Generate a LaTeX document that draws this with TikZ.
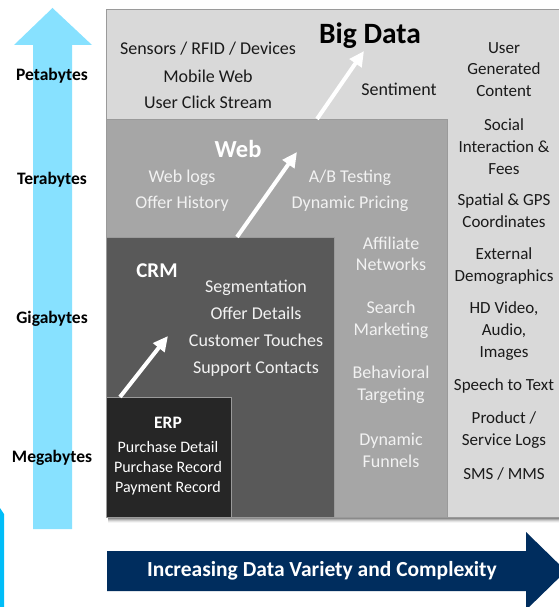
\documentclass[tikz,border=0pt]{standalone}
\usepackage{fontspec}
\setmainfont{Carlito}
\usetikzlibrary{arrows.meta}
\definecolor{bdlight}{HTML}{D9D9D9}
\definecolor{bdborder}{HTML}{9A9A9A}
\definecolor{webgray}{HTML}{A6A6A6}
\definecolor{crmgray}{HTML}{595959}
\definecolor{erpgray}{HTML}{262626}
\definecolor{skyarrow}{HTML}{87E1FF}
\definecolor{brightblue}{HTML}{00BDF8}
\definecolor{navy}{HTML}{002D5E}
\definecolor{paletext}{HTML}{F2F2F2}
\definecolor{darktext}{HTML}{1A1A1A}
\tikzset{
  lbl/.style={font=\fontsize{18}{20}\selectfont, text=darktext, align=center, inner sep=0pt},
  lblw/.style={font=\fontsize{18}{21.5}\selectfont, text=paletext, align=center, inner sep=0pt},
  lblwide/.style={font=\fontsize{18}{26}\selectfont, text=paletext, align=center, inner sep=0pt},
  lblr/.style={font=\fontsize{17}{21.7}\selectfont, text=darktext, align=center, inner sep=0pt},
  lble/.style={font=\fontsize{16}{20}\selectfont, text=white, align=center, inner sep=0pt},
  sizelbl/.style={font=\bfseries\fontsize{17.5}{19}\selectfont, text=black, inner sep=0pt},
  growarrow/.style={white, line width=4pt, -{Triangle[length=15pt,width=14pt]}},
  region/.style={draw=bdborder, line width=0.6pt}
}
\begin{document}
\begin{tikzpicture}[x=1pt,y=-1pt]
\useasboundingbox (0,0) rectangle (558,607);
\fill[white] (0,0) rectangle (558,607);
% vertical scale arrow
\fill[skyarrow] (33,529) -- (33,45) -- (14,45) -- (52.5,8) -- (92,45) -- (72,45) -- (72,529) -- cycle;
\fill[brightblue] (0,508) -- (4,514) -- (4,607) -- (0,607) -- cycle;
\node[sizelbl] (peta) at (52,76) {Petabytes};
\node[sizelbl] (tera) at (52,180) {Terabytes};
\node[sizelbl] (giga) at (52,319) {Gigabytes};
\node[sizelbl] (mega) at (52,458) {Megabytes};
% shadow
\foreach \o/\a in {1/0.25,2/0.2,3/0.15,4/0.1,5/0.07,6/0.04}{
  \fill[black, opacity=\a] (108,517) rectangle (560,517+\o);
}
% regions
\node[region, fill=bdlight, minimum width=454pt, minimum height=508pt, inner sep=0pt, anchor=north west] (bigdata) at (106,9) {};
\node[region, fill=webgray, minimum width=341pt, minimum height=398pt, inner sep=0pt, anchor=north west] (web) at (106,119) {};
\node[region, fill=crmgray, minimum width=228pt, minimum height=280pt, inner sep=0pt, anchor=north west] (crm) at (106,237) {};
\node[region, fill=erpgray, minimum width=125pt, minimum height=120pt, inner sep=0pt, anchor=north west] (erp) at (106,397) {};
% Big Data texts
\node[font=\bfseries\fontsize{29.5}{32}\selectfont, text=black, inner sep=0pt] (bdtitle) at (370,36) {Big Data};
\node[lbl] (sensors) at (208,49) {Sensors / RFID / Devices};
\node[lbl] (mobile) at (208,76) {Mobile Web};
\node[lbl] (click) at (208,102) {User Click Stream};
\node[lbl] (sentiment) at (399,89) {Sentiment};
\node[lblr] (ugc) at (504,69.5) {User\\Generated\\Content};
\node[lblr] (social) at (504,146.5) {Social\\Interaction \&\\Fees};
\node[lblr] (spatial) at (504,211) {Spatial \& GPS\\Coordinates};
\node[lblr] (external) at (504,266) {External\\Demographics};
\node[lblr] (hd) at (504,331) {HD Video,\\Audio,\\Images};
\node[lblr] (speech) at (504,386) {Speech to Text};
\node[lblr] (product) at (504,430) {Product /\\Service Logs};
\node[lblr] (sms) at (504,474) {SMS / MMS};
% Web texts
\node[font=\bfseries\fontsize{24.5}{27}\selectfont, text=white, inner sep=0pt] (webtitle) at (238,149) {Web};
\node[lblwide] (weblogs) at (182,191) {Web logs\\Offer History};
\node[lblwide] (abtest) at (350,191) {A/B Testing\\Dynamic Pricing};
\node[lblw] (affiliate) at (391,254) {Affiliate\\Networks};
\node[lblw] (search) at (391,320) {Search\\Marketing};
\node[lblw] (behav) at (391,385) {Behavioral\\Targeting};
\node[lblw] (funnels) at (391,450.5) {Dynamic\\Funnels};
% CRM texts
\node[font=\bfseries\fontsize{21}{23}\selectfont, text=white, inner sep=0pt] (crmtitle) at (157,271) {CRM};
\node[font=\fontsize{18}{27}\selectfont, text=paletext, align=center, inner sep=0pt] (crmitems) at (256,328.5) {Segmentation\\Offer Details\\Customer Touches\\Support Contacts};
% ERP texts
\node[font=\bfseries\fontsize{17.5}{19}\selectfont, text=white, inner sep=0pt] (erptitle) at (168,423) {ERP};
\node[lble] (erpitems) at (168,468) {Purchase Detail\\Purchase Record\\Payment Record};
% growth arrows
\coordinate (a1s) at (120,397); \coordinate (a1e) at (168,336);
\coordinate (a2s) at (237,237); \coordinate (a2e) at (297,152);
\coordinate (a3s) at (317,119); \coordinate (a3e) at (364,51);
\draw[growarrow] (a1s) -- (a1e);
\draw[growarrow] (a2s) -- (a2e);
\draw[growarrow] (a3s) -- (a3e);
% variety arrow
\fill[navy] (107,551) -- (526,551) -- (526,532) -- (566,571) -- (526,610) -- (526,591) -- (107,591) -- cycle;
\node[font=\bfseries\fontsize{21.5}{23}\selectfont, text=white, inner sep=0pt] (variety) at (322,571) {Increasing Data Variety and Complexity};
\end{tikzpicture}
\end{document}
